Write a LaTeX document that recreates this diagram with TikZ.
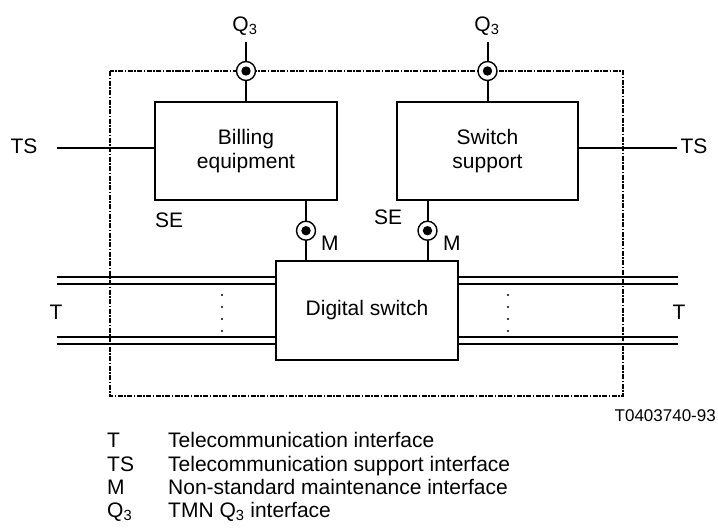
\documentclass[tikz,border=0pt]{standalone}
\usepackage{fontspec}
\setmainfont{Liberation Sans}
\usetikzlibrary{positioning,calc}

\begin{document}
\begin{tikzpicture}[x=1pt, y=-1pt, font=\fontsize{21}{23.5}\selectfont,
  box/.style={draw, line width=1.2pt, inner sep=0pt, align=center},
  wire/.style={line width=2pt},
  trunk/.style={line width=2.2pt},
  frame/.style={line width=1.4pt, dash pattern=on 5pt off 1.5pt on 1.5pt off 1.5pt},
  jack/.style={draw, circle, line width=1.4pt, fill=white, minimum size=19pt, inner sep=0pt,
    path picture={\fill[black] (path picture bounding box.center) circle (4.7pt);}},
  lbl/.style={inner sep=0pt, anchor=base}]
  \useasboundingbox (0,0) rectangle (718,531);

  % Boundary of the exchange
  \draw[frame] (110,71) rectangle (623,396);

  % Equipment blocks
  \node[box, minimum width=182pt, minimum height=98pt] (bill) at (246,151) {Billing\\equipment};
  \node[box, minimum width=181pt, minimum height=98pt] (supp) at (487.5,151) {Switch\\support};
  \node[box, minimum width=182pt, minimum height=99pt] (dsw) at (367,310.5) {Digital switch};

  % T interfaces (double lines)
  \coordinate (tlu) at (56.5,277);  \coordinate (tlv) at (56.5,284);
  \coordinate (tll) at (56.5,337);  \coordinate (tlm) at (56.5,344);
  \coordinate (tru) at (678,277);   \coordinate (trv) at (678,284);
  \coordinate (trl) at (678,337);   \coordinate (trm) at (678,344);
  \foreach \a in {tlu,tlv,tll,tlm} \draw[trunk] (\a) -- (\a -| dsw.west);
  \foreach \a in {tru,trv,trl,trm} \draw[trunk] (\a) -- (\a -| dsw.east);
  \foreach \y in {295,307,319,331} {
    \fill (222,\y) circle (1.1pt);
    \fill (508,\y) circle (1.1pt);
  }
  \node[lbl] (tl) at (56,319) {T};
  \node[lbl] (tr) at (679,319) {T};

  % TS interfaces
  \coordinate (tsa) at (57,148);
  \coordinate (tsb) at (677,148);
  \draw[wire] (tsa) -- (tsa -| bill.west);
  \draw[wire] (tsb) -- (tsb -| supp.east);
  \node[lbl] (tsl) at (24,153) {TS};
  \node[lbl] (tsr) at (694,153) {TS};

  % Q3 interfaces
  \node[jack] (q3a) at (246,71) {};
  \node[jack] (q3b) at (487.5,71) {};
  \coordinate (q3ta) at (246,42);
  \coordinate (q3tb) at (487.5,42);
  \draw[wire] (q3ta) -- (q3a) -- (bill);
  \draw[wire] (q3tb) -- (q3b) -- (supp);
  \node[lbl] (q3la) at (245,31) {Q\textsubscript{3}};
  \node[lbl] (q3lb) at (487,31) {Q\textsubscript{3}};

  % M interfaces
  \node[jack] (ma) at (306,230.7) {};
  \node[jack] (mb) at (427.5,230.7) {};
  \draw[wire] (ma |- bill.south) -- (ma) -- (ma |- dsw.north);
  \draw[wire] (mb |- supp.south) -- (mb) -- (mb |- dsw.north);
  \node[lbl, anchor=base west] (mla) at (321,250.5) {M};
  \node[lbl, anchor=base west] (mlb) at (443,250.5) {M};
  \node[lbl, anchor=base west] (sea) at (155,227) {SE};
  \node[lbl, anchor=base west] (seb) at (374,224) {SE};

  % Figure number
  \node[lbl, anchor=base east, font=\fontsize{17}{19}\selectfont] (fig) at (716,421) {T0403740-93};

  % Legend
  \foreach \y/\ab/\tx in {447.5/T/Telecommunication interface,
      471/TS/Telecommunication support interface,
      494/M/Non-standard maintenance interface,
      517/Q\textsubscript{3}/TMN Q\textsubscript{3} interface} {
    \node[lbl, anchor=base west] at (107,\y) {\ab};
    \node[lbl, anchor=base west] at (168,\y) {\tx};
  }

\end{tikzpicture}
\end{document}
